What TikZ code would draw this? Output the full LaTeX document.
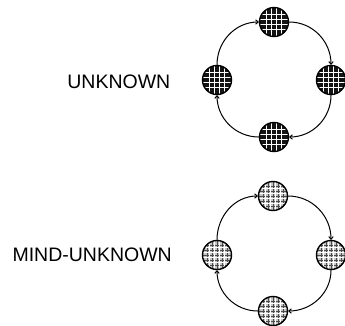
\documentclass[tikz,border=0pt]{standalone}
\usepackage{fontspec}
\setmainfont{Liberation Sans}
\usetikzlibrary{arrows.meta}
\tikzset{
  ballbase/.style={circle, minimum size=29pt, inner sep=0pt, draw=black, line width=1.4pt},
  ballA/.style={ballbase, fill=black!92,
    path picture={\foreach \d in {-7.5,-2.5,2.5,7.5}{
      \draw[white, line width=1.2pt] ([xshift=\d pt]path picture bounding box.north) -- ([xshift=\d pt]path picture bounding box.south);
      \draw[white, line width=1.2pt] ([yshift=\d pt]path picture bounding box.west) -- ([yshift=\d pt]path picture bounding box.east);}}},
  ballB/.style={ballbase, fill=gray!45,
    path picture={\foreach \d in {-10,-5,0,5,10}{
      \draw[black!70, line width=0.5pt] ([xshift=\d pt]path picture bounding box.north) -- ([xshift=\d pt]path picture bounding box.south);
      \draw[black!70, line width=0.5pt] ([yshift=\d pt]path picture bounding box.west) -- ([yshift=\d pt]path picture bounding box.east);}
      \foreach \d in {-7.5,-2.5,2.5,7.5}{
      \draw[white, line width=0.9pt] ([xshift=\d pt]path picture bounding box.north) -- ([xshift=\d pt]path picture bounding box.south);
      \draw[white, line width=0.9pt] ([yshift=\d pt]path picture bounding box.west) -- ([yshift=\d pt]path picture bounding box.east);}}},
  flow/.style={line width=1pt, -{To[length=3.5pt,width=5pt]}},
  lbl/.style={anchor=east, inner sep=0pt, font=\fontsize{19.5}{22}\selectfont},
}
\begin{document}
\begin{tikzpicture}[x=1pt,y=-1pt]
\useasboundingbox (0,0) rectangle (345,325);
% top cycle
\node[ballA] (t1) at (274,22) {};
\node[ballA] (r1) at (331,80) {};
\node[ballA] (b1) at (274,137) {};
\node[ballA] (l1) at (217,80) {};
\draw[flow] (l1.north) to[out=90,in=180] (t1.west);
\draw[flow] (t1.east) to[out=0,in=90] (r1.north);
\draw[flow] (r1.south) to[out=-90,in=0] (b1.east);
\draw[flow] (b1.west) to[out=180,in=-90] (l1.south);
\node[lbl] (lab1) at (170.5,81.5) {UNKNOWN};
% bottom cycle
\node[ballB] (t2) at (273,196) {};
\node[ballB] (r2) at (331,255) {};
\node[ballB] (b2) at (273,311) {};
\node[ballB] (l2) at (217,255) {};
\draw[flow] (l2.north) to[out=90,in=180] (t2.west);
\draw[flow] (t2.east) to[out=0,in=90] (r2.north);
\draw[flow] (r2.south) to[out=-90,in=0] (b2.east);
\draw[flow] (b2.west) to[out=180,in=-90] (l2.south);
\node[lbl] (lab2) at (172,254.5) {MIND-UNKNOWN};
\end{tikzpicture}
\end{document}
